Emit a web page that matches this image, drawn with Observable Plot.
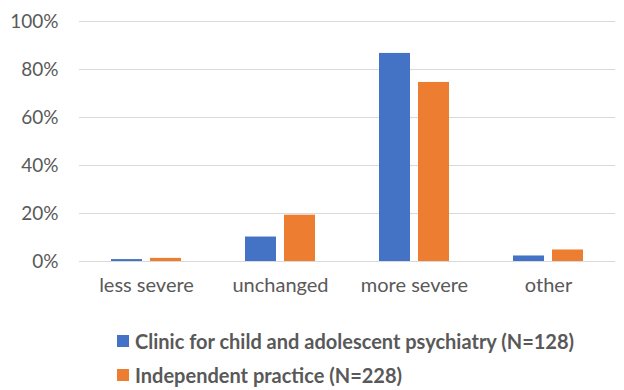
<!DOCTYPE html>
<html><head><meta charset="utf-8">
<script src="https://cdn.jsdelivr.net/npm/d3@7"></script>
<script src="https://cdn.jsdelivr.net/npm/@observablehq/plot@0.6"></script>
<style>
body{margin:0;background:#fff;font-family:Lato,"Open Sans",sans-serif;}
#legend{position:absolute;left:117px;top:324px;}
.row{display:flex;align-items:center;height:34px;font-weight:bold;font-size:20px;color:#595959;}
.sw{width:12px;height:12px;margin-right:6px;flex:none;}
</style></head><body>
<div id="chart"></div>
<div id="legend"></div>
<script>
const categories = ["less severe", "unchanged", "more severe", "other"];
const seriesNames = ["Clinic for child and adolescent psychiatry (N=128)", "Independent practice (N=228)"];
const clinic = [0.8, 10.2, 86.7, 2.3];
const independent = [1.3, 19.3, 74.6, 4.8];
const yTicks = [0, 20, 40, 60, 80, 100];
const colors = ["#4472C4", "#ED7D31"];

const data = [];
categories.forEach((c, i) => {
  data.push({category: c, series: seriesNames[0], value: clinic[i]});
  data.push({category: c, series: seriesNames[1], value: independent[i]});
});

const chart = Plot.plot({
  width: 624,
  height: 310,
  marginLeft: 78,
  marginRight: 9,
  marginTop: 21,
  marginBottom: 49,
  style: {fontFamily: "Lato, 'Open Sans', sans-serif", background: "#fff"},
  fx: {domain: categories, paddingInner: 0, paddingOuter: 0, label: null},
  x: {domain: seriesNames, axis: null, paddingInner: 0.205, paddingOuter: 0.82},
  y: {domain: [0, 100], label: null},
  color: {domain: seriesNames, range: colors},
  marks: [
    Plot.gridY(yTicks, {stroke: "#d9d9d9", strokeOpacity: 1}),
    Plot.axisY(yTicks, {tickSize: 0, tickPadding: 21, tickFormat: d => d + "%", fontSize: 19, fill: "#595959", label: null}),
    Plot.axisFx({anchor: "bottom", tickSize: 0, tickPadding: 16, fontSize: 20, fill: "#595959", label: null}),
    Plot.barY(data, {fx: "category", x: "series", y: "value", fill: "series"})
  ]
});
document.getElementById("chart").appendChild(chart);

const legend = document.getElementById("legend");
seriesNames.forEach((s, i) => {
  const row = document.createElement("div");
  row.className = "row";
  const sw = document.createElement("span");
  sw.className = "sw";
  sw.style.background = colors[i];
  const t = document.createElement("span");
  t.textContent = s;
  row.appendChild(sw); row.appendChild(t);
  legend.appendChild(row);
});
</script>
</body></html>
